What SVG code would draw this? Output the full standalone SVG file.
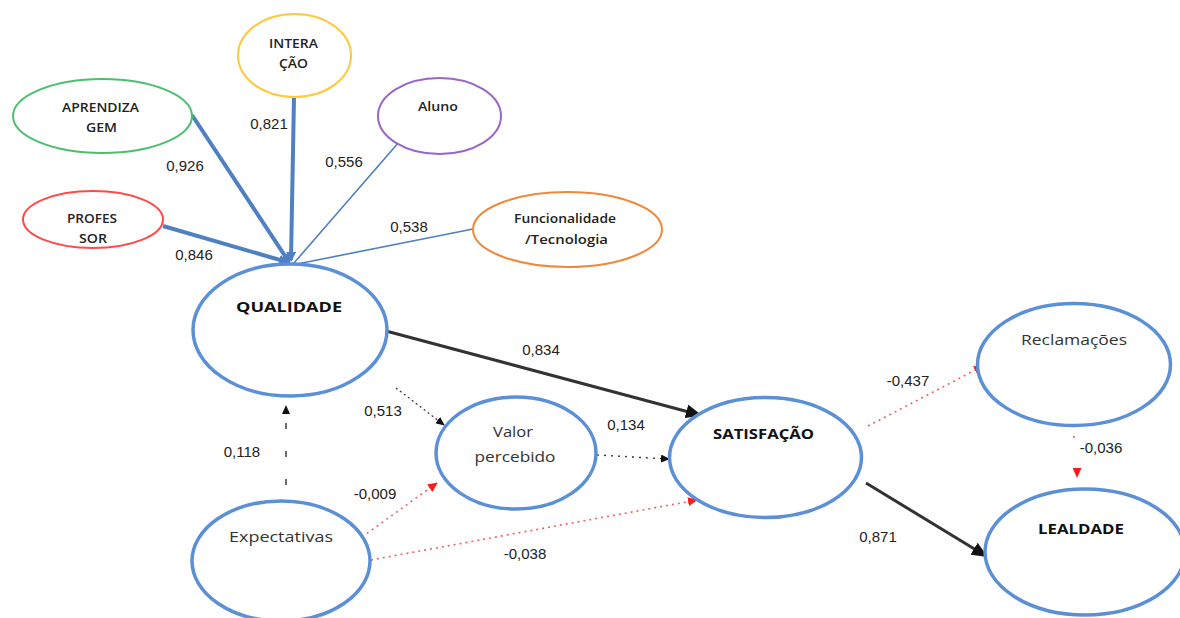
<svg xmlns="http://www.w3.org/2000/svg" width="1180" height="618" viewBox="0 0 1180 618">
  <style>
    .node { fill: #ffffff; stroke-width: 2; }
    .lat { stroke: #5b8fd6; stroke-width: 3.5; fill: #ffffff; }
    .lbl { font-family: "Open Sans", "Noto Sans", sans-serif; font-size: 12.5px; font-weight: 600; fill: #222; text-anchor: middle; }
    .lblL { font-family: "Open Sans", "Noto Sans", sans-serif; font-size: 15px; fill: #333; text-anchor: middle; }
    .lblB { font-family: "Open Sans", "Noto Sans", sans-serif; font-size: 14.5px; font-weight: 700; fill: #111; text-anchor: middle; }
    .num { font-family: "Liberation Sans", Arial, sans-serif; font-size: 15px; fill: #222; text-anchor: middle; }
    .ind { stroke: #4f80c2; fill: none; }
    .dark { stroke: #333333; fill: none; }
    .red { stroke: #f06060; fill: none; stroke-width: 1.6; stroke-dasharray: 2 4; }
  </style>
  <defs>
    <marker id="arrBlue" markerWidth="10" markerHeight="10" refX="8" refY="5" orient="auto" markerUnits="userSpaceOnUse">
      <path d="M0,0 L10,5 L0,10 z" fill="#4f80c2"/>
    </marker>
    <marker id="arrDark" markerWidth="16" markerHeight="14" refX="14" refY="7" orient="auto" markerUnits="userSpaceOnUse">
      <path d="M0,0 L16,7 L0,14 z" fill="#111"/>
    </marker>
    <marker id="arrSmall" markerWidth="9" markerHeight="8" refX="8" refY="4" orient="auto" markerUnits="userSpaceOnUse">
      <path d="M0,0 L9,4 L0,8 z" fill="#111"/>
    </marker>
    <marker id="arrRed" markerWidth="10" markerHeight="9" refX="9" refY="4.5" orient="auto" markerUnits="userSpaceOnUse">
      <path d="M0,0 L10,4.5 L0,9 z" fill="#ff1a1a"/>
    </marker>
  </defs>

  <!-- paths between constructs -->
  <g id="connectors">
    <line class="ind" x1="192" y1="115" x2="289" y2="262" stroke-width="4" marker-end="url(#arrBlue)"/>
    <line class="ind" x1="294" y1="97" x2="291" y2="260" stroke-width="4" marker-end="url(#arrBlue)"/>
    <line class="ind" x1="163" y1="226" x2="287" y2="262" stroke-width="4" marker-end="url(#arrBlue)"/>
    <line class="ind" x1="399" y1="142" x2="294" y2="263" stroke-width="1.6" stroke="#6f9bd2"/>
    <line class="ind" x1="473" y1="229" x2="297" y2="264" stroke-width="1.6" stroke="#6f9bd2"/>

    <line class="dark" x1="386" y1="331" x2="700" y2="415" stroke-width="3" marker-end="url(#arrDark)"/>
    <line class="dark" x1="396" y1="388" x2="444" y2="425" stroke-width="1.2" stroke-dasharray="2 3" stroke="#555" marker-end="url(#arrSmall)"/>
    <line class="dark" x1="597" y1="455" x2="669" y2="459" stroke-width="1.4" stroke-dasharray="2 5" stroke="#444" marker-end="url(#arrSmall)"/>
    <line class="dark" x1="286" y1="485" x2="286" y2="406" stroke-width="1.4" stroke-dasharray="6 22" stroke="#555" marker-end="url(#arrSmall)"/>
    <line class="dark" x1="866" y1="483" x2="986" y2="556" stroke-width="3" marker-end="url(#arrDark)"/>

    <line class="red" x1="362" y1="537" x2="437" y2="483" marker-end="url(#arrRed)"/>
    <line class="red" x1="371" y1="560" x2="697" y2="500" marker-end="url(#arrRed)"/>
    <line class="red" x1="868" y1="426" x2="983" y2="366" marker-end="url(#arrRed)"/>
    <line class="red" x1="1074" y1="436" x2="1074" y2="439" stroke-dasharray="none"/>
    <line class="red" x1="1077" y1="472" x2="1077" y2="477" stroke-dasharray="0 10" marker-end="url(#arrRed)"/>
  </g>

  <!-- path coefficients -->
  <g id="coefficients">
    <text class="num" x="185" y="171">0,926</text>
    <text class="num" x="269" y="129">0,821</text>
    <text class="num" x="344" y="167">0,556</text>
    <text class="num" x="194" y="260">0,846</text>
    <text class="num" x="409" y="232">0,538</text>
    <text class="num" x="541" y="355">0,834</text>
    <text class="num" x="383" y="416">0,513</text>
    <text class="num" x="626" y="430">0,134</text>
    <text class="num" x="242" y="457">0,118</text>
    <text class="num" x="375" y="499">-0,009</text>
    <text class="num" x="525" y="559">-0,038</text>
    <text class="num" x="908" y="386">-0,437</text>
    <text class="num" x="1101" y="453">-0,036</text>
    <text class="num" x="878" y="542">0,871</text>
  </g>

  <g id="interacao">
    <ellipse class="node" cx="294.5" cy="55.5" rx="56.5" ry="41.5" stroke="#ffc83d"/>
    <text class="lbl" x="293.5" y="48" textLength="49" lengthAdjust="spacingAndGlyphs">INTERA</text>
    <text class="lbl" x="293.5" y="68" textLength="29" lengthAdjust="spacingAndGlyphs">ÇÃO</text>
  </g>
  <g id="aprendizagem">
    <ellipse class="node" cx="102.5" cy="116" rx="89.5" ry="37" stroke="#4cbf6e"/>
    <text class="lbl" x="100.5" y="112" textLength="77" lengthAdjust="spacingAndGlyphs">APRENDIZA</text>
    <text class="lbl" x="101.5" y="132" textLength="31" lengthAdjust="spacingAndGlyphs">GEM</text>
  </g>
  <g id="professor">
    <ellipse class="node" cx="93" cy="219.5" rx="70" ry="28.5" stroke="#ff4a4a"/>
    <text class="lbl" x="92" y="223" textLength="50" lengthAdjust="spacingAndGlyphs">PROFES</text>
    <text class="lbl" x="93" y="243" textLength="28" lengthAdjust="spacingAndGlyphs">SOR</text>
  </g>
  <g id="aluno">
    <ellipse class="node" cx="439.5" cy="116" rx="61.5" ry="38" stroke="#9b64c8"/>
    <text class="lbl" x="438" y="111" textLength="40" lengthAdjust="spacingAndGlyphs">Aluno</text>
  </g>
  <g id="funcionalidade">
    <ellipse class="node" cx="567.5" cy="229.5" rx="94.5" ry="37.5" stroke="#f0883a"/>
    <text class="lbl" x="565" y="223" textLength="102" lengthAdjust="spacingAndGlyphs">Funcionalidade</text>
    <text class="lbl" x="566.5" y="244" textLength="83" lengthAdjust="spacingAndGlyphs">/Tecnologia</text>
  </g>

  <g id="qualidade">
    <ellipse class="lat" cx="290" cy="330" rx="97" ry="66"/>
    <text class="lblB" x="289" y="312" textLength="106" lengthAdjust="spacingAndGlyphs">QUALIDADE</text>
  </g>
  <g id="valor">
    <ellipse class="lat" cx="516" cy="453" rx="80" ry="56"/>
    <text class="lblL" x="513" y="437" textLength="40" lengthAdjust="spacingAndGlyphs">Valor</text>
    <text class="lblL" x="515" y="462" textLength="81" lengthAdjust="spacingAndGlyphs">percebido</text>
  </g>
  <g id="satisfacao">
    <ellipse class="lat" cx="765.5" cy="457.5" rx="96" ry="60"/>
    <text class="lblB" x="763.5" y="439" textLength="101" lengthAdjust="spacingAndGlyphs">SATISFAÇÃO</text>
  </g>
  <g id="reclamacoes">
    <ellipse class="lat" cx="1074" cy="364.5" rx="96.5" ry="61"/>
    <text class="lblL" x="1074" y="345" textLength="106" lengthAdjust="spacingAndGlyphs">Reclamações</text>
  </g>
  <g id="lealdade">
    <ellipse class="lat" cx="1085" cy="552" rx="100" ry="63"/>
    <text class="lblB" x="1081" y="534" textLength="86" lengthAdjust="spacingAndGlyphs">LEALDADE</text>
  </g>
  <g id="expectativas">
    <ellipse class="lat" cx="281" cy="561" rx="89" ry="60"/>
    <text class="lblL" x="281" y="542" textLength="104" lengthAdjust="spacingAndGlyphs">Expectativas</text>
  </g>
</svg>
